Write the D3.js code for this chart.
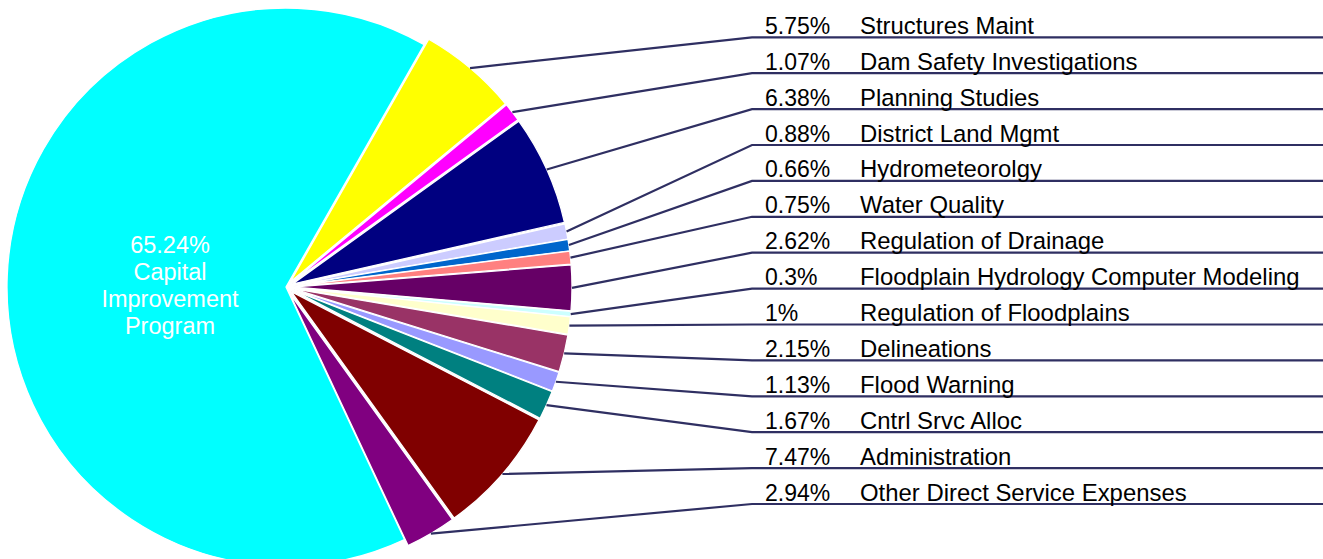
<!DOCTYPE html>
<html>
<head>
<meta charset="utf-8">
<script src="https://cdn.jsdelivr.net/npm/d3@7"></script>
<style>
	body { margin: 0; background: #fff; }
	svg { display: block; font-family: Arial, "Liberation Sans", sans-serif; }
</style>
</head>
<body>
<div id="chart"></div>
<script>
// slices in clockwise order, starting at the yellow one
const categories = [
	"Structures Maint", "Dam Safety Investigations", "Planning Studies",
	"District Land Mgmt", "Hydrometeorolgy", "Water Quality",
	"Regulation of Drainage", "Floodplain Hydrology Computer Modeling",
	"Regulation of Floodplains", "Delineations", "Flood Warning",
	"Cntrl Srvc Alloc", "Administration", "Other Direct Service Expenses",
	"Capital Improvement Program"
];
const values = [5.75, 1.07, 6.38, 0.88, 0.66, 0.75, 2.62, 0.3, 1, 2.15, 1.13, 1.67, 7.47, 2.94, 65.24];
const pctLabels = ["5.75%", "1.07%", "6.38%", "0.88%", "0.66%", "0.75%", "2.62%", "0.3%", "1%",
	"2.15%", "1.13%", "1.67%", "7.47%", "2.94%", "65.24%"];
const colors = ["#ffff00", "#ff00ff", "#000080", "#ccccff", "#0066cc", "#ff8080", "#660066",
	"#ccffff", "#ffffcc", "#993366", "#9999ff", "#008080", "#800000", "#800080", "#00ffff"];
const bigLabel = ["65.24%", "Capital", "Improvement", "Program"];

const width = 1323, height = 559;
const cx = 286, cy = 287, radius = 279, explode = 7;
const lineColor = "#2f2f62";

const data = categories.map((c, i) => ({ name: c, value: values[i], pct: pctLabels[i], color: colors[i] }));
const big = data.length - 1;

const svg = d3.select("#chart").append("svg")
	.attr("width", width)
	.attr("height", height);

const startA = 29.7 * Math.PI / 180;
const pie = d3.pie().sort(null).value(d => d.value)
	.startAngle(startA).endAngle(startA + 2 * Math.PI);
const arcs = pie(data);

const arc = d3.arc().innerRadius(0).outerRadius(radius);

const mid = d => (d.startAngle + d.endAngle) / 2;
const off = (d, i) => i === big ? 0 : explode;

const pieG = svg.append("g").attr("transform", `translate(${cx},${cy})`);

pieG.selectAll("path")
	.data(arcs)
	.enter()
	.append("path")
	.attr("transform", (d, i) => `translate(${off(d, i) * Math.sin(mid(d))},${-off(d, i) * Math.cos(mid(d))})`)
	.attr("d", arc)
	.attr("fill", d => d.data.color)
	.attr("stroke", "#fff")
	.attr("stroke-width", 1.3);

// label rows on the right
const rows = d3.scaleLinear().domain([0, 13]).range([37.3, 504]);
const lineX = 752;

const small = arcs.slice(0, big);

svg.append("g").selectAll("path")
	.data(small)
	.enter()
	.append("path")
	.attr("d", (d, i) => {
		const a = mid(d), r = radius + explode;
		const x0 = cx + r * Math.sin(a), y0 = cy - r * Math.cos(a);
		return `M${x0},${y0}L${lineX},${rows(i)}L${width},${rows(i)}`;
	})
	.attr("fill", "none")
	.attr("stroke", lineColor)
	.attr("stroke-width", 2.2);

const labels = svg.append("g").selectAll("g")
	.data(small)
	.enter()
	.append("g")
	.attr("transform", (d, i) => `translate(0,${rows(i) - 3.5})`)
	.attr("fill", "#000");

labels.append("text").attr("x", 765).style("font-size", "23px").text(d => d.data.pct);
labels.append("text").attr("x", 860).style("font-size", "23.9px").text(d => d.data.name);

// label inside the big slice
svg.append("g").selectAll("text")
	.data(bigLabel)
	.enter()
	.append("text")
	.attr("x", 170)
	.attr("y", (d, i) => 253 + i * 27)
	.attr("text-anchor", "middle")
	.attr("fill", "#fff")
	.style("font-size", "23.5px")
	.text(d => d);
</script>
</body>
</html>
